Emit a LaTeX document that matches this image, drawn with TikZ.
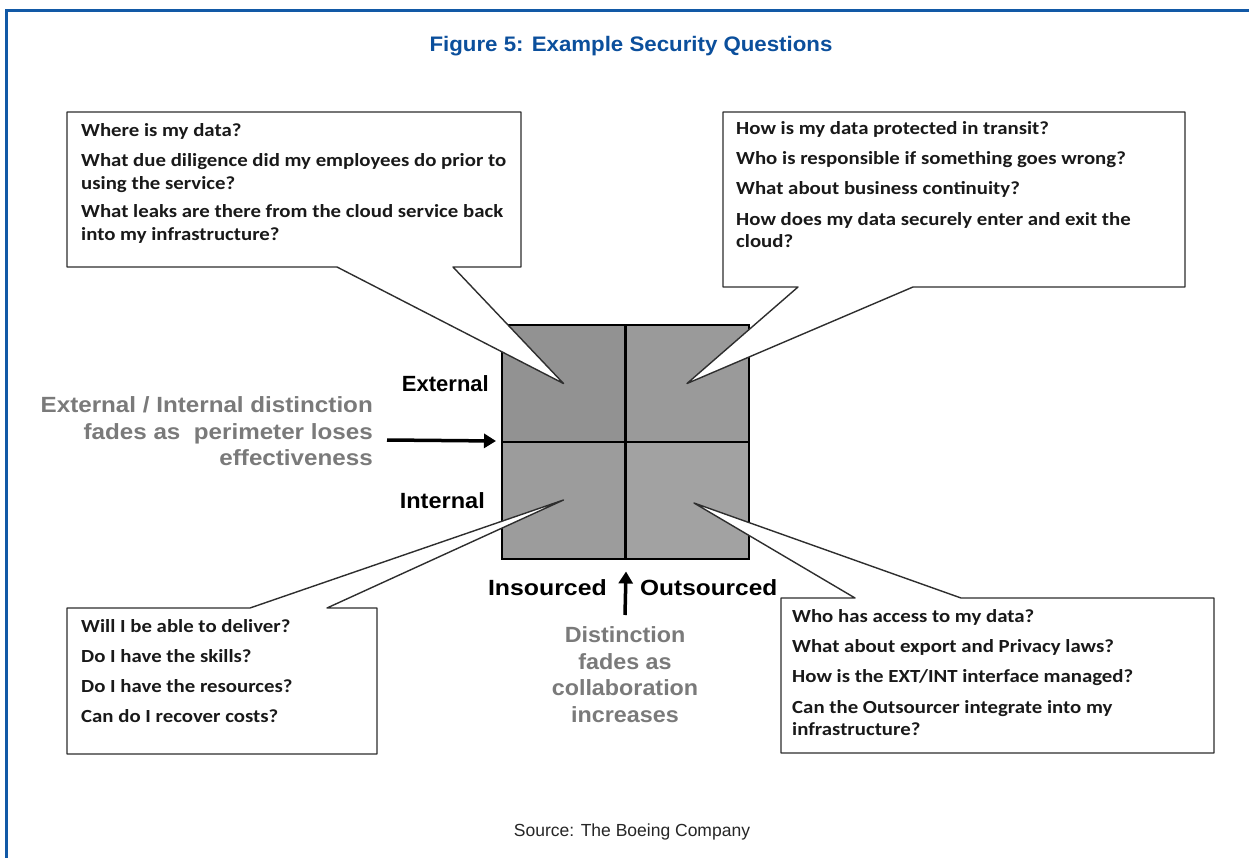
\documentclass[tikz,border=0pt]{standalone}
\usepackage{fontspec}
\usepackage{graphicx}
\setmainfont{Liberation Sans}
\newfontfamily\calfont{Carlito}
\usetikzlibrary{arrows.meta}

\definecolor{frameblue}{HTML}{1259A6}
\definecolor{titleblue}{HTML}{0B4F9C}
\definecolor{fadegray}{HTML}{7A7A7A}
\definecolor{boxline}{HTML}{2E2E2E}
\definecolor{qa}{HTML}{929292}
\definecolor{qb}{HTML}{9A9A9A}
\definecolor{qc}{HTML}{9C9C9C}
\definecolor{qd}{HTML}{A2A2A2}

\newcommand\hstretch[2]{\scalebox{#1}[1]{#2}}
% a left-aligned block of questions, first baseline on the node's base
\newcommand\qblock[1]{\hstretch{1.125}{\begin{tabular}[t]{@{}l@{}}#1\end{tabular}}}

\tikzset{
  qtext/.style={anchor=base west, inner sep=0pt,
    font=\calfont\bfseries\fontsize{18.5}{23}\selectfont, text=black!90},
  axislabel/.style={inner sep=0pt, font=\bfseries\fontsize{22}{26}\selectfont},
  fadetext/.style={inner sep=0pt, text=fadegray, font=\bfseries\fontsize{22}{26.5}\selectfont},
  callout/.style={fill=white, draw=boxline, line width=1.4pt, line join=round},
  quadbox/.style={draw=black, line width=2pt, inner sep=0pt, minimum width=123pt, minimum height=117pt},
  bigarrow/.style={line width=3.5pt, -{Triangle[length=12pt,width=14pt]}},
}

\begin{document}
\begin{tikzpicture}[x=1pt,y=-1pt]
\useasboundingbox (0,0) rectangle (1249,858);
\fill[white] (0,0) rectangle (1249,858);

% page frame
\draw[frameblue, line width=3pt] (6,858) -- (6,11) -- (1249,11);

% title
\node[inner sep=0pt, text=titleblue, font=\bfseries\fontsize{21}{24}\selectfont] (title) at (631,46)
  {\hstretch{1.06}{Figure 5: Example Security Questions}};

% the four quadrants
\node[quadbox, fill=qa] (qEI) at (563.5,383.5) {};
\node[quadbox, fill=qb] (qEO) at (687,383.5) {};
\node[quadbox, fill=qc] (qII) at (563.5,500) {};
\node[quadbox, fill=qd] (qIO) at (687,500) {};

% callouts with their tails pointing into the quadrants
\draw[callout] (67,112) -- (521,112) -- (521,267) -- (453,267) -- (qEI.center)
  -- (337,267) -- (67,267) -- cycle;
\draw[callout] (723,112) -- (1185,112) -- (1185,287) -- (913,287) -- (qEO.center)
  -- (798,287) -- (723,287) -- cycle;
\draw[callout] (67,608) -- (250,608) -- (qII.center) -- (327,608) -- (377,608)
  -- (377,754) -- (67,754) -- cycle;
\draw[callout] (781,598) -- (855,598) -- ([xshift=7pt,yshift=-3pt]qIO.center) -- (961,598)
  -- (1214,598) -- (1214,753) -- (781,753) -- cycle;

% questions
\node[qtext] (qs-tl) at (81,137) {\qblock{Where is my data?\\[7pt]
  What due diligence did my employees do prior to\\
  using the service?\\[5pt]
  What leaks are there from the cloud service back\\
  into my infrastructure?}};
\node[qtext] (qs-tr) at (736,135) {\qblock{How is my data protected in transit?\\[7pt]
  Who is responsible if something goes wrong?\\[7pt]
  What about business continuity?\\[8pt]
  How does my data securely enter and exit the\\[-1pt]
  cloud?}};
\node[qtext] (qs-bl) at (81,632) {\qblock{Will I be able to deliver?\\[7pt]
  Do I have the skills?\\[7pt]
  Do I have the resources?\\[7pt]
  Can do I recover costs?}};
\node[qtext] (qs-br) at (792,622) {\qblock{Who has access to my data?\\[7pt]
  What about export and Privacy laws?\\[7pt]
  How is the EXT/INT interface managed?\\[8pt]
  Can the Outsourcer integrate into my\\[-1pt]
  infrastructure?}};

% axis labels
\node[axislabel, anchor=base east] (ext) at (489,391) {External};
\node[axislabel, anchor=base east] (int) at (485,508) {\hstretch{1.07}{Internal}};
\node[axislabel, anchor=base east] (ins) at (607,595) {\hstretch{1.13}{Insourced}};
\node[axislabel, anchor=base west] (outs) at (640,595) {\hstretch{1.11}{Outsourced}};

% faded explanations
\node[fadetext, anchor=east] (fade-left) at (373,434)
  {\hstretch{1.1}{\begin{tabular}{@{}r@{}}External / Internal distinction\\
   fades as\ \ perimeter loses\\ effectiveness\end{tabular}}};
\node[fadetext, anchor=center] (fade-bottom) at (625,677)
  {\hstretch{1.06}{\begin{tabular}{@{}c@{}}Distinction\\ fades as\\ collaboration\\ increases\end{tabular}}};

% arrows
\coordinate (harrow) at (387,440);
\coordinate (varrow) at (625,615);
\draw[bigarrow] (harrow) -- ([xshift=-5pt,yshift=2pt]qEI.south west);
\draw[bigarrow] (varrow) -- ([yshift=-12pt]qII.south east);

% source line
\node[inner sep=0pt, text=black!85, font=\fontsize{17.5}{20}\selectfont] (source) at (632,832)
  {Source: The Boeing Company};
\end{tikzpicture}
\end{document}
